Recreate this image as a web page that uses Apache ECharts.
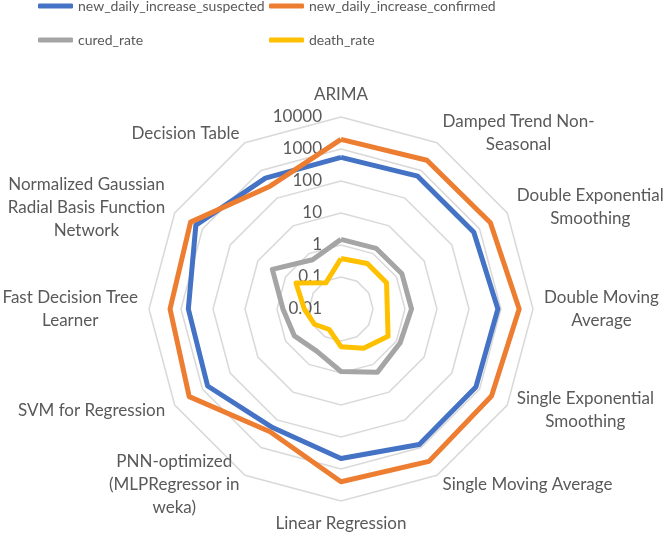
<!DOCTYPE html>
<html>
<head>
<meta charset="utf-8">
<script src="https://cdn.jsdelivr.net/npm/echarts@6/dist/echarts.min.js"></script>
<style>html,body{margin:0;padding:0;background:#fff}#c{width:666px;height:533px}</style>
</head>
<body>
<div id="c"></div>
<script>
// Categories (clockwise from top), line breaks as shown in the picture
var categories = [
  'ARIMA',
  'Damped Trend Non-\nSeasonal',
  'Double Exponential\nSmoothing',
  'Double Moving\nAverage',
  'Single Exponential\nSmoothing',
  'Single Moving Average',
  'Linear Regression',
  'PNN-optimized\n(MLPRegressor in\nweka)',
  'SVM for Regression',
  'Fast Decision Tree\nLearner',
  'Normalized Gaussian\nRadial Basis Function\nNetwork',
  'Decision Table'
];
var seriesNames = ['new_daily_increase_suspected', 'new_daily_increase_confirmed', 'cured_rate', 'death_rate'];
var suspected = [550, 620, 620, 800, 740, 780, 470, 190, 650, 590, 1730, 530];
var confirmed = [2000, 2340, 2460, 3700, 2700, 3150, 2500, 270, 3000, 2200, 2680, 270];
var curedRate = [1.5, 1.55, 1.58, 1.6, 1.35, 1.9, 0.9, 0.33, 0.48, 0.65, 3.0, 0.6];
var deathRate = [0.38, 0.44, 0.44, 0.28, 0.5, 0.26, 0.15, 0.055, 0.09, 0.14, 0.42, 0.088];
var tickLabels = ['0.01', '0.1', '1', '10', '100', '1000', '10000'];

var colors = ['#4472C4', '#ED7D31', '#A5A5A5', '#FFC000'];
var textColor = '#595959';
var FONT = 'Lato';

// ECharts radar runs counter-clockwise; reorder so the picture runs clockwise
var order = [0];
for (var i = categories.length - 1; i >= 1; i--) order.push(i);
function reorder(arr) { return order.map(function (k) { return arr[k]; }); }
function logv(arr) { return arr.map(function (v) { return Math.log10(v); }); }

var LOGMIN = Math.log10(parseFloat(tickLabels[0]));
var LOGMAX = Math.log10(parseFloat(tickLabels[tickLabels.length - 1]));

var indicators = reorder(categories).map(function (name, idx) {
  var ind = { name: name, min: LOGMIN, max: LOGMAX };
  if (idx === 0) ind.axisLabel = { show: true };
  return ind;
});

var values = [suspected, confirmed, curedRate, deathRate];

var chart = echarts.init(document.getElementById('c'), null, { renderer: 'canvas' });
chart.setOption({
  animation: false,
  backgroundColor: '#fff',
  color: colors,
  legend: [
    {
      orient: 'vertical', left: 38, top: -1, padding: 0,
      itemWidth: 35, itemHeight: 5, itemGap: 20, icon: 'roundRect',
      data: [seriesNames[0], seriesNames[2]],
      textStyle: { color: textColor, fontSize: 14, fontFamily: FONT }
    },
    {
      orient: 'vertical', left: 269, top: -1, padding: 0,
      itemWidth: 35, itemHeight: 5, itemGap: 20, icon: 'roundRect',
      data: [seriesNames[1], seriesNames[3]],
      textStyle: { color: textColor, fontSize: 14, fontFamily: FONT }
    }
  ],
  radar: {
    center: [341, 309],
    radius: 192,
    startAngle: 90,
    shape: 'polygon',
    splitNumber: tickLabels.length - 1,
    indicator: indicators,
    axisName: {
      color: textColor,
      fontSize: 17,
      fontFamily: FONT,
      formatter: function (name) {
        return name.split('\n').map(function (l) { return '{c|' + l + '}'; }).join('\n');
      },
      rich: { c: { align: 'center', color: textColor, fontSize: 17, fontFamily: FONT, lineHeight: 23 } }
    },
    nameGap: 11,
    axisLine: { show: false },
    axisTick: { show: false },
    splitArea: { show: false },
    splitLine: { lineStyle: { color: '#D9D9D9', width: 1.5 } },
    axisLabel: {
      show: false,
      color: textColor,
      fontSize: 17,
      fontFamily: FONT,
      margin: 19,
      padding: [4, 0, 0, 0],
      showMinLabel: true,
      showMaxLabel: true,
      formatter: function (v) {
        var idx = Math.round(v - LOGMIN);
        return tickLabels[idx] !== undefined ? tickLabels[idx] : '';
      }
    }
  },
  series: [{
    type: 'radar',
    symbol: 'none',
    data: values.map(function (arr, k) {
      return {
        name: seriesNames[k],
        value: logv(reorder(arr)),
        lineStyle: { color: colors[k], width: 5 },
        itemStyle: { color: colors[k] }
      };
    })
  }]
});
</script>
</body>
</html>
